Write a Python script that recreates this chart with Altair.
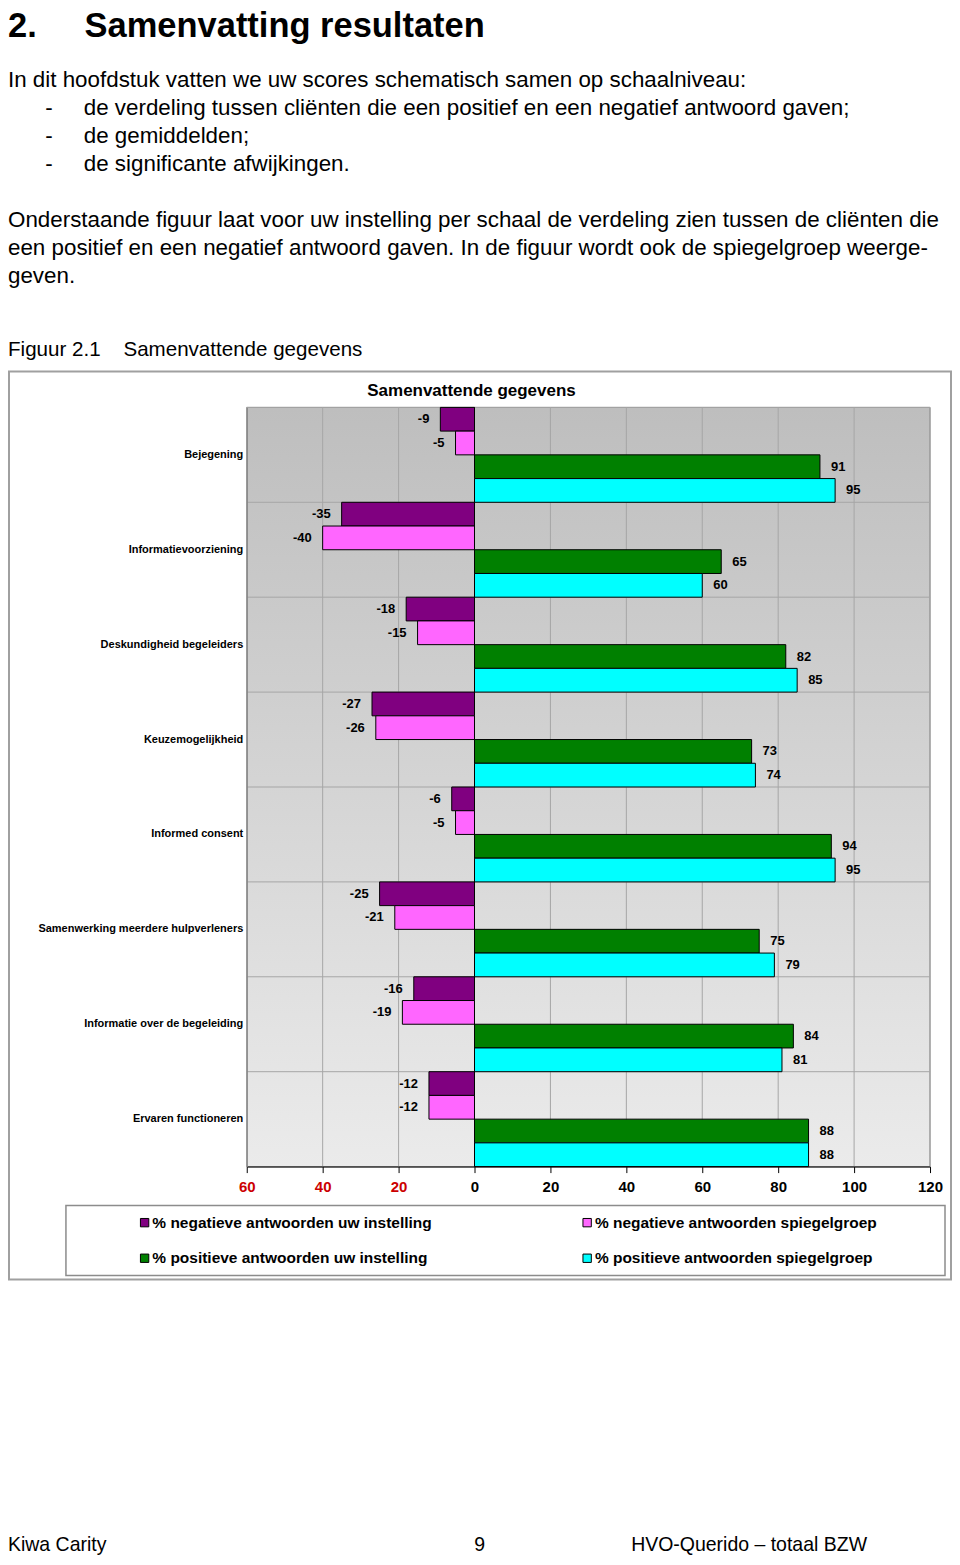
import altair as alt
import pandas as pd

FONT = "Liberation Sans"
NB = "\u00a0"
ZW = "\u200b"

# ---------------- data ----------------
categories = [
    "Bejegening",
    "Informatievoorziening",
    "Deskundigheid begeleiders",
    "Keuzemogelijkheid",
    "Informed consent",
    "Samenwerking meerdere hulpverleners",
    "Informatie over de begeleiding",
    "Ervaren functioneren",
]
series = [
    "% negatieve antwoorden uw instelling",
    "% negatieve antwoorden spiegelgroep",
    "% positieve antwoorden uw instelling",
    "% positieve antwoorden spiegelgroep",
]
neg_uw = [-9, -35, -18, -27, -6, -25, -16, -12]
neg_spiegel = [-5, -40, -15, -26, -5, -21, -19, -12]
pos_uw = [91, 65, 82, 73, 94, 75, 84, 88]
pos_spiegel = [95, 60, 85, 74, 95, 79, 81, 88]
colors = ["#800080", "#FF66FF", "#008000", "#00FFFF"]
x_ticks = [-60, -40, -20, 0, 20, 40, 60, 80, 100, 120]

heading = "2." + NB * 5 + "Samenvatting resultaten"
bullet = ZW + NB * 6 + "-" + NB * 5
body_lines = [
    "In dit hoofdstuk vatten we uw scores schematisch samen op schaalniveau:",
    bullet + "de verdeling tussen cliënten die een positief en een negatief antwoord gaven;",
    bullet + "de gemiddelden;",
    bullet + "de significante afwijkingen.",
    ZW,
    "Onderstaande figuur laat voor uw instelling per schaal de verdeling zien tussen de cliënten die",
    "een positief en een negatief antwoord gaven. In de figuur wordt ook de spiegelgroep weerge-",
    "geven.",
]
figure_label = "Figuur 2.1" + NB * 4 + "Samenvattende gegevens"
chart_title = "Samenvattende gegevens"
footer_text = "Kiwa Carity" + NB * 68 + "9" + NB * 27 + "HVO-Querido \u2013 totaal BZW"

rows = []
for i, c in enumerate(categories):
    for s, vals in zip(series, [neg_uw, neg_spiegel, pos_uw, pos_spiegel]):
        rows.append({"cat": c, "series": s, "value": vals[i]})
df = pd.DataFrame(rows)

# legend fills column by column: order the colour domain so rows read like the reference
legend_order = [series[0], series[2], series[1], series[3]]
legend_colors = [colors[0], colors[2], colors[1], colors[3]]

W, H = 684, 760
LEFT = 239  # from page margin to plot origin

xscale = alt.Scale(domain=[-60, 120], nice=False, zero=False)
yscale = alt.Scale(domain=categories, paddingInner=0, paddingOuter=0)

xaxis = alt.Axis(
    values=x_ticks, labelExpr="abs(datum.value)",
    labelColor={"condition": {"test": "datum.value < 0", "value": "#CC0000"}, "value": "black"},
    grid=False, domainColor="black", tickColor="black", tickSize=6,
    labelFont=FONT, labelFontSize=15, labelFontWeight="bold", labelPadding=7,
    title=None, zindex=1, labelFlush=False, labelOverlap=False,
)
yaxis = alt.Axis(
    title=None, labelFont=FONT, labelFontSize=11, labelFontWeight="bold",
    labelPadding=4, ticks=False, domainColor="#808080", labelLimit=400,
    zindex=1, grid=False, labelColor="black",
)

one = pd.DataFrame({"k": [0]})

frame = alt.Chart(one).mark_rect(fill="white", stroke="#A0A0A0", strokeWidth=2).encode(
    x=alt.value(-LEFT + 1), x2=alt.value(705), y=alt.value(-36), y2=alt.value(873)
)
legend_box = alt.Chart(one).mark_rect(fill="white", stroke="#8C8C8C", strokeWidth=1.5).encode(
    x=alt.value(-181), x2=alt.value(699), y=alt.value(799), y2=alt.value(869)
)
bg = alt.Chart(one).mark_rect(
    fill=alt.Gradient(
        gradient="linear",
        stops=[alt.GradientStop(color="#BEBEBE", offset=0), alt.GradientStop(color="#EBEBEB", offset=1)],
        x1=0, x2=0, y1=0, y2=1,
    ),
    stroke="#808080", strokeWidth=1,
).encode(x=alt.value(0), x2=alt.value(W), y=alt.value(0), y2=alt.value(H))

vgrid = alt.Chart(pd.DataFrame({"value": x_ticks})).mark_rule(color="#A6A6A6", strokeWidth=1).encode(
    x=alt.X("value:Q", scale=xscale, axis=xaxis)
)
hsep = alt.Chart(pd.DataFrame({"cat": categories})).mark_rule(color="#A6A6A6", strokeWidth=1).encode(
    y=alt.Y("cat:N", bandPosition=0, scale=yscale, axis=yaxis),
    x=alt.value(0), x2=alt.value(W),
)
zero = alt.Chart(pd.DataFrame({"value": [0]})).mark_rule(color="black", strokeWidth=1).encode(
    x=alt.X("value:Q", scale=xscale, axis=xaxis)
)

yenc = alt.Y("cat:N", scale=yscale, axis=yaxis)
yoff = alt.YOffset("series:N", scale=alt.Scale(domain=series, paddingInner=0, paddingOuter=0))
xenc = alt.X("value:Q", scale=xscale, axis=xaxis)

bars = alt.Chart(df).mark_bar(stroke="black", strokeWidth=1, opacity=1).encode(
    y=yenc, yOffset=yoff, x=xenc,
    color=alt.Color(
        "series:N",
        scale=alt.Scale(domain=legend_order, range=legend_colors),
        legend=alt.Legend(
            title=None, orient="none", legendX=-110, legendY=808, columns=2,
            columnPadding=147, rowPadding=19, symbolType="square", symbolSize=70,
            symbolStrokeColor="black", symbolStrokeWidth=1, symbolOpacity=1,
            labelFont=FONT, labelFontSize=15.5, labelFontWeight="bold", labelColor="black",
            labelLimit=500, labelOffset=0, padding=0,
        ),
    ),
)

text_style = dict(font=FONT, fontSize=13, fontWeight="bold", color="black", baseline="middle")
tneg = alt.Chart(df).transform_filter("datum.value < 0").transform_calculate(
    label="'' + datum.value"
).mark_text(align="right", dx=-11, **text_style).encode(
    y=yenc, yOffset=yoff, x=xenc, text=alt.Text("label:N")
)
tpos = alt.Chart(df).transform_filter("datum.value >= 0").transform_calculate(
    label="'' + datum.value"
).mark_text(align="left", dx=11, **text_style).encode(
    y=yenc, yOffset=yoff, x=xenc, text=alt.Text("label:N")
)

bar_chart = alt.layer(frame, legend_box, bg, vgrid, hsep, zero, bars, tneg, tpos).properties(
    width=W, height=H,
    title=alt.TitleParams(
        chart_title, font=FONT, fontSize=17, fontWeight="bold", anchor="middle",
        frame="group", dx=-117, offset=-30, color="black",
    ),
)

empty = pd.DataFrame({"t": pd.Series([], dtype=str)})
TW = 705

header = alt.Chart(empty).mark_text().encode(text="t:N").properties(
    width=TW, height=41,
    title=alt.TitleParams(
        heading, subtitle=body_lines, anchor="start", frame="group", dx=-LEFT,
        font=FONT, fontSize=34.5, fontWeight="bold", color="black",
        subtitleFont=FONT, subtitleFontSize=22.4, subtitleColor="black",
        subtitleLineHeight=28, subtitlePadding=25, offset=10,
    ),
)

fig_label = alt.Chart(empty).mark_text().encode(text="t:N").properties(
    width=TW, height=6,
    title=alt.TitleParams(
        figure_label, anchor="start", frame="group", dx=-LEFT, font=FONT, fontSize=20.6,
        fontWeight="normal", color="black", offset=4,
    ),
)

footer = alt.Chart(empty).mark_text().encode(text="t:N").properties(
    width=TW, height=252,
    title=alt.TitleParams(
        footer_text, anchor="start", frame="group", orient="bottom", dx=-LEFT, font=FONT,
        fontSize=19.5, fontWeight="normal", color="black", offset=4,
    ),
)

chart = (
    alt.vconcat(header, fig_label, bar_chart, footer, spacing=0)
    .resolve_scale(color="independent")
    .resolve_legend(color="independent")
    .properties(padding=0, background="white")
    .configure_view(stroke=None)
)

chart.save("out.html", embed_options={"renderer": "svg", "actions": False})
